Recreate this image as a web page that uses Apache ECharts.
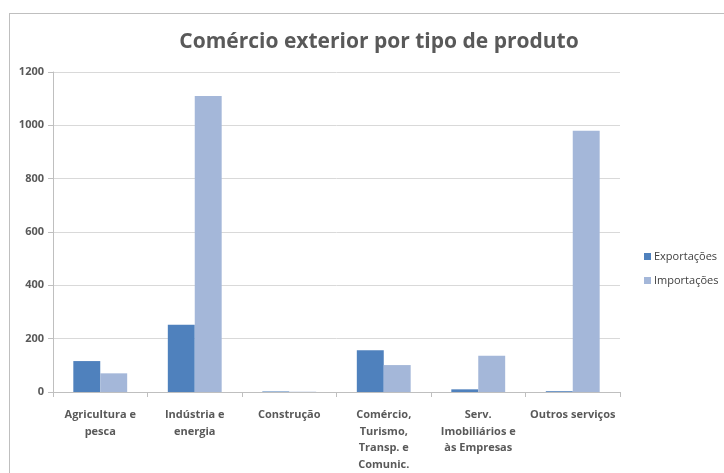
<!DOCTYPE html>
<html>
<head>
<meta charset="utf-8">
<script src="https://cdn.jsdelivr.net/npm/echarts@6/dist/echarts.min.js"></script>
<style>
  html, body { margin: 0; padding: 0; background: #fff; }
  #chart { position: absolute; left: 0; top: 0; width: 724px; height: 473px; }
  .frame { position: absolute; left: 9px; top: 13px; width: 760px; height: 520px; border: 1px solid #bfbfbf; }
</style>
</head>
<body>
<div class="frame"></div>
<div id="chart"></div>
<script>
const categories = [
  'Agricultura e\npesca',
  'Indústria e\nenergia',
  'Construção',
  'Comércio,\nTurismo,\nTransp. e\nComunic.',
  'Serv.\nImobiliários e\nàs Empresas',
  'Outros serviços'
];
const exportacoes = [116, 252, 2, 157, 10, 3];
const importacoes = [70, 1110, 1, 101, 136, 980];
const yTicks = [0, 200, 400, 600, 800, 1000, 1200];

const font = '"Open Sans", "Noto Sans", sans-serif';
const chart = echarts.init(document.getElementById('chart'));
chart.setOption({
  animation: false,
  textStyle: { fontFamily: font },
  title: {
    text: 'Comércio exterior por tipo de produto',
    left: 374,
    textAlign: 'center',
    top: 27,
    textStyle: { fontSize: 21, fontWeight: 'bold', color: '#595959', fontFamily: font }
  },
  legend: {
    orient: 'vertical',
    left: 639,
    top: 246,
    itemWidth: 7,
    itemHeight: 7,
    itemGap: 13,
    icon: 'rect',
    textStyle: { fontSize: 11, color: '#404040', padding: [0, 0, 0, -2] },
    data: ['Exportações', 'Importações']
  },
  grid: { left: 53, right: 104, top: 72, bottom: 81, containLabel: false },
  xAxis: {
    type: 'category',
    data: categories,
    axisLine: { lineStyle: { color: '#bfbfbf' } },
    axisTick: { show: true, length: 5, lineStyle: { color: '#bfbfbf' } },
    axisLabel: {
      interval: 0, margin: 15, lineHeight: 16.5,
      fontSize: 11, fontWeight: 'bold', color: '#595959'
    }
  },
  yAxis: {
    type: 'value',
    min: yTicks[0],
    max: yTicks[yTicks.length - 1],
    interval: 200,
    axisLine: { show: true, lineStyle: { color: '#bfbfbf' } },
    axisTick: { show: true, length: 5, lineStyle: { color: '#bfbfbf' } },
    splitLine: { lineStyle: { color: '#d9d9d9' } },
    axisLabel: {
      margin: 9, fontSize: 11, fontWeight: 'bold', color: '#595959',
      formatter: v => String(v)
    }
  },
  series: [
    {
      name: 'Exportações',
      type: 'bar',
      data: exportacoes,
      barGap: '0%',
      barCategoryGap: '43%',
      itemStyle: { color: '#4f81bd' }
    },
    {
      name: 'Importações',
      type: 'bar',
      data: importacoes,
      barGap: '0%',
      barCategoryGap: '43%',
      itemStyle: { color: '#a4b7d9' }
    }
  ]
});
</script>
</body>
</html>
